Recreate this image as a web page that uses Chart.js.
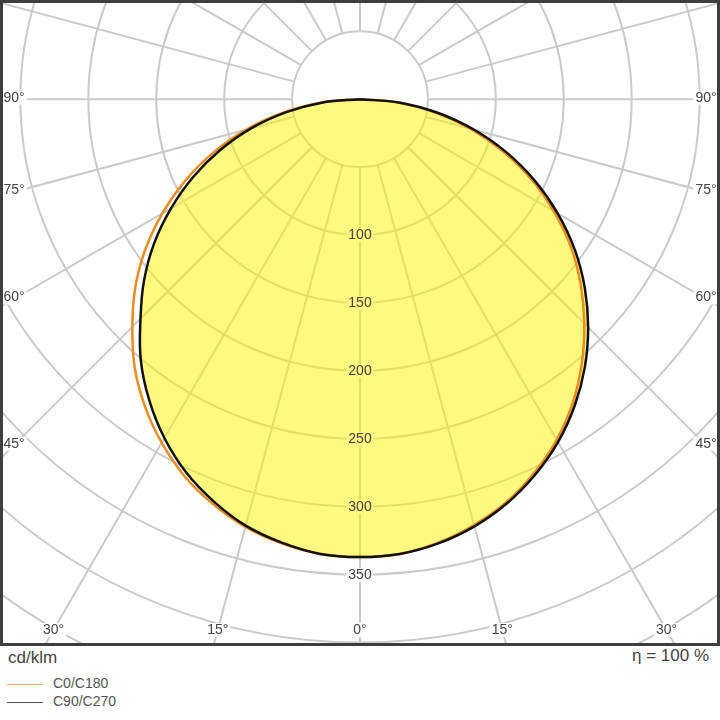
<!DOCTYPE html>
<html>
<head>
<meta charset="utf-8">
<title>LDC</title>
<script src="https://cdn.jsdelivr.net/npm/chart.js@4.4.1/dist/chart.umd.min.js"></script>
<style>
  html, body { margin: 0; padding: 0; background: #fff; }
  body { width: 720px; height: 720px; position: relative; overflow: hidden;
         font-family: "Liberation Sans", Arial, sans-serif; color: #444; }
  #plot { position: absolute; left: 0; top: 0; width: 720px; height: 646px; }
  .txt { position: absolute; white-space: pre; line-height: 1; }
  .unit { left: 8px; top: 649px; font-size: 17px; }
  .eta { right: 11px; top: 647px; font-size: 17px; }
  .leg-line { position: absolute; left: 7px; width: 36px; height: 0; border-top: 1px solid; }
  .leg-text { left: 53px; font-size: 14px; color: #555; }
</style>
</head>
<body>
<div id="plot"><canvas id="ldc"></canvas></div>
<div class="txt unit" id="unit"></div>
<div class="txt eta" id="eta"></div>
<div class="leg-line" style="top:684px; border-color:#f0b46a;"></div>
<div class="txt leg-text" id="leg0" style="top:676px;"></div>
<div class="leg-line" style="top:702px; border-color:#4a525a;"></div>
<div class="txt leg-text" id="leg1" style="top:694px;"></div>
<script>
// 光强 (cd/klm)，γ 角 0°–90°，步长 5°
const GAMMA = [0, 5, 10, 15, 20, 25, 30, 35, 40, 45, 50, 55, 60, 65, 70, 75, 80, 85, 90];
const C0   = [337, 336, 331.5, 324.5, 315.5, 303.5, 289.5, 273, 254, 233.5, 212, 189.5, 164.5, 139, 112, 84.5, 56.5, 28.5, 0]; // 右半
const C180 = [337, 336, 332, 326, 317, 306, 292, 276, 258, 237, 216, 193, 168, 142, 115, 87, 58, 29, 0];                   // 左半
const C90  = [337, 336, 332, 325.5, 316.5, 305, 291.5, 275.5, 257.5, 237.5, 216, 193, 168, 142, 115, 87, 58.5, 29.5, 0];   // 右半
const C270 = [337, 336, 331.5, 325, 315, 303, 288, 270.5, 251, 228.5, 207.5, 185, 160.5, 135.5, 109.5, 83, 55, 27.5, 0];   // 左半

// 网格与刻度
const RINGS = [50, 100, 150, 200, 250, 300, 350, 400, 450];
const RING_LABELS = [100, 150, 200, 250, 300, 350];
const ANGLE_LABELS = [0, 15, 30, 45, 60, 75, 90];
const SPOKE_STEP = 15;
const SERIES_NAMES = ['C0/C180', 'C90/C270'];
const UNIT = 'cd/klm';
const ETA = 'η = 100 %';

// 样式
const GRID_COLOR = '#cacaca';
const TEXT_COLOR = '#444';
const FILL_COLOR = 'rgba(255, 244, 0, 0.5)';
const FONT = '14px "Liberation Sans", Arial, sans-serif';
const SIDE_INSET = 14;
const BOTTOM_INSET = 16;

const rad = (g) => g * Math.PI / 180;

// 左半从 90° 到 0°，右半从 0° 到 90°，拼成闭合曲线
const toPoints = (left, right) => {
    const pts = [];
    for (let i = GAMMA.length - 1; i >= 0; i--) {
        pts.push({ x: -left[i] * Math.sin(rad(GAMMA[i])), y: -left[i] * Math.cos(rad(GAMMA[i])) });
    }
    for (let i = 1; i < GAMMA.length; i++) {
        pts.push({ x: right[i] * Math.sin(rad(GAMMA[i])), y: -right[i] * Math.cos(rad(GAMMA[i])) });
    }
    return pts;
};

// 所有标签的位置（由坐标轴换算）
const labelItems = (chart) => {
    const { chartArea: a, scales: { x, y } } = chart;
    const cx = x.getPixelForValue(0), cy = y.getPixelForValue(0);
    const items = RING_LABELS.map(v => ({ text: String(v), x: cx, y: y.getPixelForValue(-v) }));
    [-1, 1].forEach(s => {
        ANGLE_LABELS.forEach(g => {
            if (s > 0 && g === 0) return;
            const sn = Math.sin(rad(g)), cs = Math.cos(rad(g));
            const dSide = sn > 1e-6 ? (cx - a.left) / sn : Infinity;
            const dBottom = cs > 1e-6 ? (a.bottom - cy) / cs : Infinity;
            if (dSide < dBottom) {
                const lx = s < 0 ? a.left + SIDE_INSET : a.right - SIDE_INSET;
                items.push({ text: g + '°', x: lx, y: cy + Math.abs(lx - cx) * cs / sn - 1.5 });
            } else {
                const ly = a.bottom - BOTTOM_INSET;
                items.push({ text: g + '°', x: cx + s * (ly - cy) * sn / cs, y: ly });
            }
        });
    });
    return items;
};

const polarGrid = {
    id: 'polarGrid',
    beforeDraw(chart) {
        const { ctx, chartArea: a, scales: { x, y } } = chart;
        const cx = x.getPixelForValue(0), cy = y.getPixelForValue(0);
        ctx.save();
        ctx.beginPath();
        ctx.rect(a.left, a.top, a.width, a.height);
        ctx.clip();
        ctx.strokeStyle = GRID_COLOR;
        ctx.lineWidth = 2;
        RINGS.forEach(r => {
            ctx.beginPath();
            ctx.arc(cx, cy, x.getPixelForValue(r) - cx, 0, Math.PI * 2);
            ctx.stroke();
        });
        const r0 = RINGS[0], r1 = 700;
        for (let g = 0; g < 360; g += SPOKE_STEP) {
            const sn = Math.sin(rad(g)), cs = Math.cos(rad(g));
            ctx.beginPath();
            ctx.moveTo(x.getPixelForValue(r0 * sn), y.getPixelForValue(-r0 * cs));
            ctx.lineTo(x.getPixelForValue(r1 * sn), y.getPixelForValue(-r1 * cs));
            ctx.stroke();
        }
        // 标签底色
        ctx.font = FONT;
        ctx.fillStyle = '#fff';
        labelItems(chart).forEach(it => {
            const w = ctx.measureText(it.text).width + 4;
            ctx.fillRect(it.x - w / 2, it.y - 7, w, 14);
        });
        ctx.restore();
    },
    afterDraw(chart) {
        const { ctx, chartArea: a } = chart;
        ctx.save();
        ctx.font = FONT;
        ctx.fillStyle = TEXT_COLOR;
        ctx.textAlign = 'center';
        ctx.textBaseline = 'middle';
        labelItems(chart).forEach(it => ctx.fillText(it.text, it.x, it.y));
        ctx.strokeStyle = '#3e3e3e';
        ctx.lineWidth = 3;
        ctx.strokeRect(a.left + 1.5, a.top + 1.5, a.width - 3, a.height - 3);
        ctx.restore();
    }
};

new Chart(document.getElementById('ldc'), {
    type: 'line',
    data: {
        datasets: [
            {
                label: SERIES_NAMES[1],
                data: toPoints(C270, C90),
                borderColor: '#111',
                borderWidth: 2.5,
                backgroundColor: FILL_COLOR,
                fill: 'shape',
                pointRadius: 0,
                tension: 0.4,
                borderJoinStyle: 'round'
            },
            {
                label: SERIES_NAMES[0],
                data: toPoints(C180, C0),
                borderColor: '#ec8c1e',
                borderWidth: 2.5,
                fill: false,
                pointRadius: 0,
                tension: 0.4,
                borderJoinStyle: 'round'
            }
        ]
    },
    options: {
        responsive: true,
        maintainAspectRatio: false,
        animation: false,
        events: [],
        layout: { padding: 0 },
        scales: {
            x: { type: 'linear', min: -265, max: 265, display: false },
            y: { type: 'linear', min: -402.5, max: 73, display: false }
        },
        plugins: {
            legend: { display: false },
            tooltip: { enabled: false },
            filler: { drawTime: 'beforeDatasetsDraw' }
        }
    },
    plugins: [polarGrid]
});

document.getElementById('unit').textContent = UNIT;
document.getElementById('eta').textContent = ETA;
document.getElementById('leg0').textContent = SERIES_NAMES[0];
document.getElementById('leg1').textContent = SERIES_NAMES[1];
</script>
</body>
</html>
